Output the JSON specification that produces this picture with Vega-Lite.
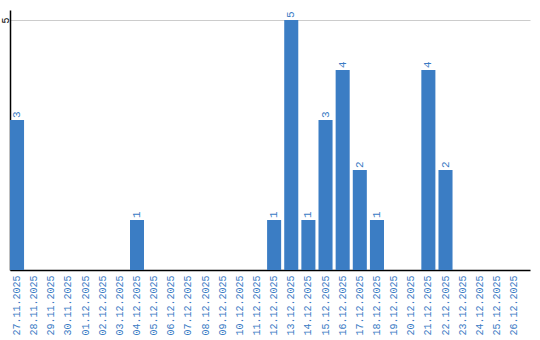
{
  "$schema": "https://vega.github.io/schema/vega-lite/v6.json",
  "autosize": "none",
  "width": 520,
  "height": 260,
  "padding": {"left": 10, "top": 10, "right": 10, "bottom": 70},
  "config": {"view": {"stroke": null}, "font": "Liberation Mono"},
  "data": {"values": [
    {"d": "27.11.2025", "v": 3},
    {"d": "28.11.2025", "v": 0},
    {"d": "29.11.2025", "v": 0},
    {"d": "30.11.2025", "v": 0},
    {"d": "01.12.2025", "v": 0},
    {"d": "02.12.2025", "v": 0},
    {"d": "03.12.2025", "v": 0},
    {"d": "04.12.2025", "v": 1},
    {"d": "05.12.2025", "v": 0},
    {"d": "06.12.2025", "v": 0},
    {"d": "07.12.2025", "v": 0},
    {"d": "08.12.2025", "v": 0},
    {"d": "09.12.2025", "v": 0},
    {"d": "10.12.2025", "v": 0},
    {"d": "11.12.2025", "v": 0},
    {"d": "12.12.2025", "v": 1},
    {"d": "13.12.2025", "v": 5},
    {"d": "14.12.2025", "v": 1},
    {"d": "15.12.2025", "v": 3},
    {"d": "16.12.2025", "v": 4},
    {"d": "17.12.2025", "v": 2},
    {"d": "18.12.2025", "v": 1},
    {"d": "19.12.2025", "v": 0},
    {"d": "20.12.2025", "v": 0},
    {"d": "21.12.2025", "v": 4},
    {"d": "22.12.2025", "v": 2},
    {"d": "23.12.2025", "v": 0},
    {"d": "24.12.2025", "v": 0},
    {"d": "25.12.2025", "v": 0},
    {"d": "26.12.2025", "v": 0}
  ]},
  "encoding": {
    "x": {
      "field": "d", "type": "ordinal", "sort": null,
      "scale": {"paddingInner": 0.18, "paddingOuter": 0.26, "align": 0},
      "axis": {
        "title": null, "labelAngle": -90, "labelAlign": "right", "labelBaseline": "middle",
        "labelColor": "#3a7bc4", "labelFontSize": 10, "labelFont": "Liberation Mono",
        "ticks": false, "labelPadding": 5, "domainColor": "#000000", "domainWidth": 1.5
      }
    },
    "y": {
      "field": "v", "type": "quantitative",
      "scale": {"domain": [0, 5.2], "nice": false},
      "axis": {
        "title": null, "values": [5], "ticks": false, "labelAngle": -90,
        "labelAlign": "center", "labelBaseline": "middle", "labelPadding": 5,
        "labelColor": "#000000", "labelFontSize": 10, "labelFont": "Liberation Mono",
        "gridColor": "#cccccc", "domainColor": "#000000", "domainWidth": 1.5
      }
    }
  },
  "layer": [
    {"mark": {"type": "bar", "color": "#3b7dc4"}},
    {
      "transform": [{"filter": "datum.v > 0"}],
      "mark": {"type": "text", "angle": -90, "align": "left", "baseline": "middle", "dx": 2, "color": "#3a7bc4", "fontSize": 11, "font": "Liberation Mono"},
      "encoding": {"text": {"field": "v", "type": "quantitative"}}
    }
  ]
}
